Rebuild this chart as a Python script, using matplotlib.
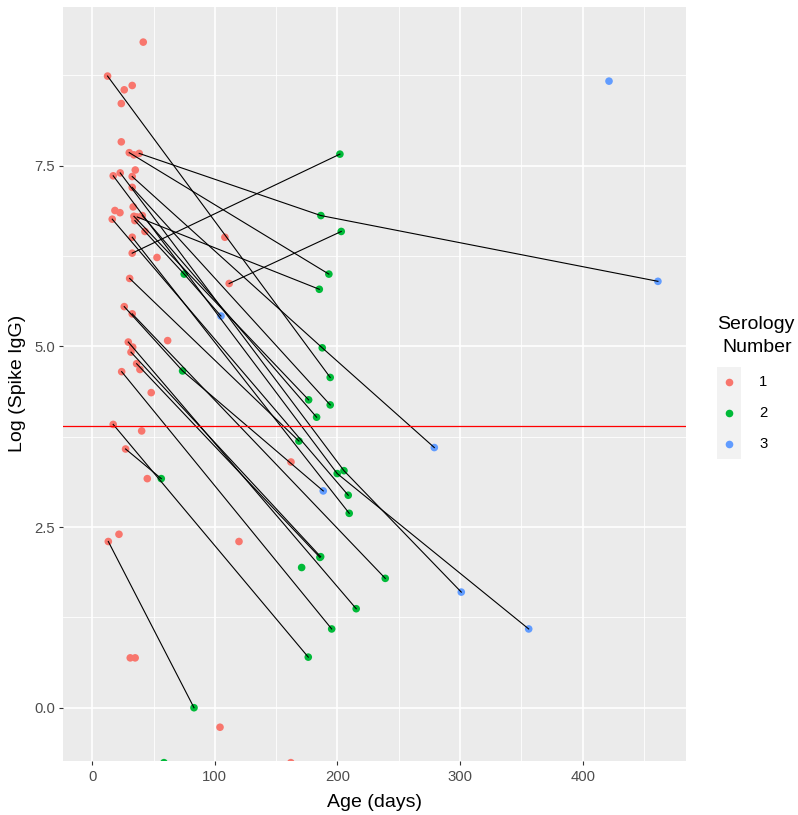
import matplotlib
matplotlib.use("Agg")
import matplotlib.pyplot as plt
from matplotlib.patches import Rectangle

plt.rcParams['font.family'] = ['Liberation Sans', 'DejaVu Sans']

# ---- data ----
subject = [1, 1,
           2, 2, 2,
           3, 3,
           4, 4,
           5, 5,
           6, 6, 6,
           7, 7, 7,
           8, 8,
           9, 9,
           10, 10,
           11, 11,
           12, 12,
           13, 13,
           14, 14, 14,
           15, 15,
           16, 16, 16,
           17, 17,
           18, 18, 18,
           19, 19,
           20, 20,
           21, 21,
           22, 22,
           23, 23,
           24, 24,
           25, 25,
           26, 27, 28, 29, 30, 31, 32, 33, 34, 35, 36, 37, 38, 39, 40, 41,
           42, 43, 44, 45, 46, 47, 48, 49, 50, 51, 52, 53, 54]
age = [12.5, 194.1,
       38.3, 186.5, 461.4,
       30.2, 193.0,
       32.6, 202.0,
       111.7, 203.1,
       17.1, 199.8, 356.0,
       22.8, 205.3, 301.0,
       32.6, 194.1,
       16.3, 208.8,
       32.6, 209.6,
       34.0, 176.5,
       40.8, 183.0,
       36.7, 185.2,
       34.8, 75.0, 105.0,
       30.5, 168.6,
       26.1, 73.7, 188.4,
       32.6, 239.0,
       32.6, 187.6, 279.0,
       29.4, 215.3,
       36.2, 185.7,
       31.6, 186.3,
       24.0, 195.3,
       17.1, 176.2,
       27.2, 56.3,
       13.1, 83.0,
       41.6, 26.1, 32.6, 23.7, 23.7, 34.0, 35.1, 18.5, 22.6, 33.4, 43.0,
       108.2, 52.8, 33.0, 61.5, 38.9, 48.1, 40.3, 44.9, 21.8, 119.7, 31.0,
       35.0, 104.2, 162.0, 162.1, 170.8, 58.5, 421.5]
log_igg = [8.74, 4.57,
           7.67, 6.81, 5.90,
           7.68, 6.00,
           6.29, 7.66,
           5.87, 6.59,
           7.36, 3.24, 1.09,
           7.40, 3.28, 1.60,
           7.20, 4.19,
           6.76, 2.94,
           6.51, 2.69,
           6.80, 4.26,
           6.81, 4.02,
           6.79, 5.79,
           6.74, 6.00, 5.42,
           5.94, 3.69,
           5.55, 4.66, 3.00,
           5.45, 1.79,
           7.35, 4.98, 3.60,
           5.06, 1.37,
           4.76, 2.08,
           4.92, 2.09,
           4.65, 1.09,
           3.92, 0.70,
           3.58, 3.17,
           2.30, 0.00,
           9.21, 8.55, 8.61, 8.36, 7.83, 7.65, 7.44, 6.88, 6.85, 6.93, 6.59,
           6.51, 6.23, 4.99, 5.08, 4.68, 4.36, 3.83, 3.17, 2.40, 2.30, 0.69,
           0.69, -0.27, -0.76, 3.40, 1.94, -0.76, 8.67]
serology = [1, 2,
            1, 2, 3,
            1, 2,
            1, 2,
            1, 2,
            1, 2, 3,
            1, 2, 3,
            1, 2,
            1, 2,
            1, 2,
            1, 2,
            1, 2,
            1, 2,
            1, 2, 3,
            1, 2,
            1, 2, 3,
            1, 2,
            1, 2, 3,
            1, 2,
            1, 2,
            1, 2,
            1, 2,
            1, 2,
            1, 2,
            1, 2,
            1, 1, 1, 1, 1, 1, 1, 1, 1, 1, 1,
            1, 1, 1, 1, 1, 1, 1, 1, 1, 1, 1,
            1, 1, 1, 1, 2, 2, 3]
threshold = 3.9
serology_levels = [1, 2, 3]
x_ticks = [0, 100, 200, 300, 400]
x_minor = [50, 150, 250, 350, 450]
y_ticks = [0.0, 2.5, 5.0, 7.5]
y_tick_labels = ['0.0', '2.5', '5.0', '7.5']
y_minor = [1.25, 3.75, 6.25, 8.75]

colors = {1: '#F8766D', 2: '#00BA38', 3: '#619CFF'}

W, H = 798, 815
fig = plt.figure(figsize=(W / 100, H / 100), dpi=100)
L, R, T, B = 62.7, 686.0, 6.7, 760.7
ax = fig.add_axes([L / W, 1 - B / H, (R - L) / W, (B - T) / H])
ax.set_facecolor('#EBEBEB')
for s in ax.spines.values():
    s.set_visible(False)
ax.set_xlim(-24.1, 484.3)
ax.set_ylim(-0.733, 9.70)
ax.set_xticks(x_ticks)
ax.set_xticks(x_minor, minor=True)
ax.set_yticks(y_ticks)
ax.set_yticklabels(y_tick_labels)
ax.set_yticks(y_minor, minor=True)
ax.grid(which='major', color='white', lw=1.2)
ax.grid(which='minor', color='white', lw=0.6)
ax.set_axisbelow(True)
ax.tick_params(which='minor', length=0)
ax.tick_params(which='major', length=3.0, width=0.8, color='#333333',
               labelcolor='#4D4D4D', labelsize=10.7)
ax.tick_params(axis='x', pad=4)
ax.tick_params(axis='y', pad=2.5)

# points
for lv in serology_levels:
    xs = [a for a, s in zip(age, serology) if s == lv]
    ys = [v for v, s in zip(log_igg, serology) if s == lv]
    ax.scatter(xs, ys, s=30, color=colors[lv], edgecolors='none', zorder=2)

# lines per subject
subs = {}
for sid, a, v in zip(subject, age, log_igg):
    subs.setdefault(sid, []).append((a, v))
for sid, pts in subs.items():
    if len(pts) > 1:
        pts.sort()
        ax.plot([p[0] for p in pts], [p[1] for p in pts], color='black',
                lw=0.8, zorder=3)

ax.axhline(threshold, color='#FF0000', lw=0.9, zorder=4)

ax.set_xlabel('Age (days)', fontsize=14, labelpad=7)
ax.set_ylabel('Log (Spike IgG)', fontsize=14, labelpad=6)

# legend
fig.text(756 / W, 1 - 325 / H, 'Serology', ha='center', va='center', fontsize=14)
fig.text(757 / W, 1 - 347 / H, 'Number', ha='center', va='center', fontsize=14)
kx0, kx1 = 717, 741
ky0 = 367
kh = 30.7
for i, lv in enumerate(serology_levels):
    y0 = ky0 + i * kh
    fig.patches.append(Rectangle((kx0 / W, 1 - (y0 + kh) / H), (kx1 - kx0) / W, kh / H,
                                 transform=fig.transFigure, facecolor='#F2F2F2',
                                 edgecolor='none'))
    cy = y0 + kh / 2
    fig.lines.append(plt.Line2D([(kx0 + kx1) / 2 / W], [1 - cy / H], marker='o',
                                markersize=5.5, color=colors[lv], markeredgewidth=0,
                                transform=fig.transFigure))
    fig.text(759 / W, 1 - cy / H, str(lv), ha='left', va='center', fontsize=10.7)

fig.savefig('out.png', dpi=100)
